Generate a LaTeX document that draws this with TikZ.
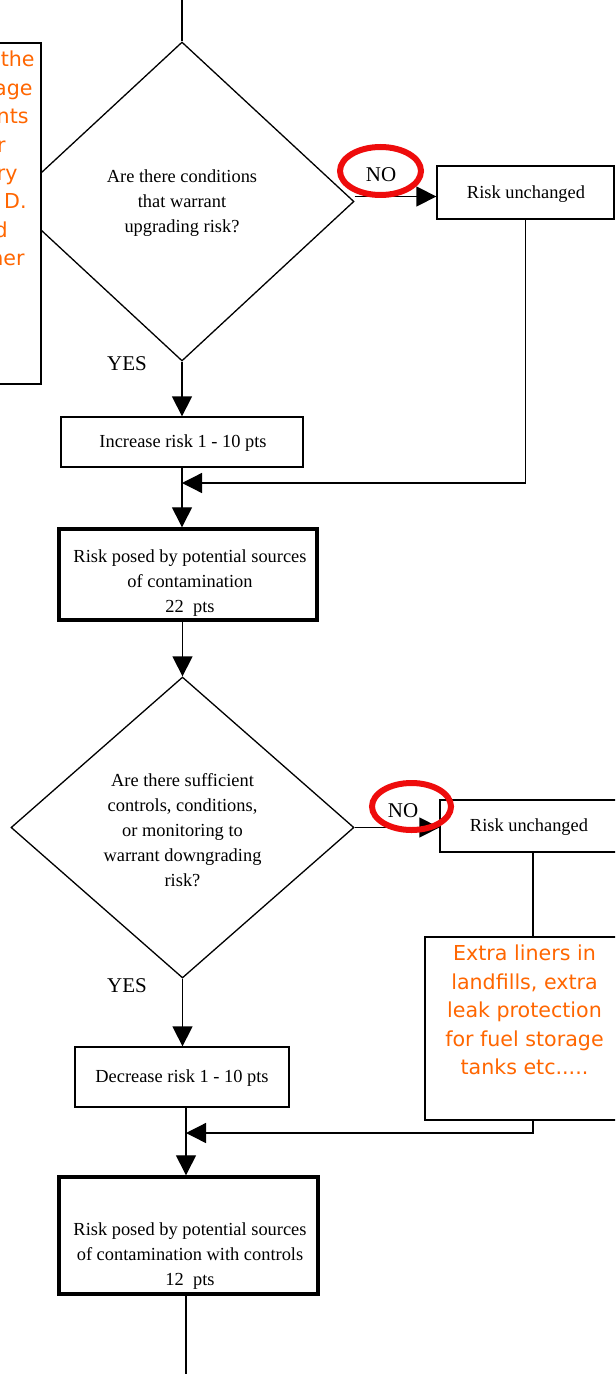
\documentclass[tikz,border=0pt]{standalone}
\usepackage{fontspec}
\setmainfont{Liberation Serif}
\newfontfamily\osans{DejaVu Sans}
\usetikzlibrary{shapes.geometric,arrows.meta}
\definecolor{orng}{RGB}{255,102,0}
\definecolor{redc}{RGB}{238,12,12}
\begin{document}
\begin{tikzpicture}[x=0.5pt,y=-0.5pt,
 every node/.style={font=\fontsize{9.2pt}{12.5pt}\selectfont},
 line/.style={line width=0.65pt},
 arr/.style={line, -{Triangle[length=10pt,width=10pt]}},
 thinbox/.style={draw, line width=0.65pt, fill=white, inner sep=0pt},
 thickbox/.style={draw, line width=1.7pt, fill=white, inner sep=0pt},
 dia/.style={diamond, draw, line width=0.65pt, inner sep=0pt, align=center},
 lab/.style={font=\fontsize{10.5pt}{12pt}\selectfont},
 txt/.style={align=center},
 otext/.style={text=orng, font=\osans\fontsize{10.3pt}{14.2pt}\selectfont, align=center, inner sep=0pt},
 frag/.style={otext, anchor=base east},
 ring/.style={ellipse, draw=redc, line width=3pt, inner sep=0pt}
]
\useasboundingbox (0,0) rectangle (615,1374);
\clip (0,0) rectangle (615,1374);

% first decision
\coordinate (top) at (182,0);
\node[dia, minimum width=172pt, minimum height=159.5pt] (d1) at (182,201.5) {};
\node[txt] (t1) at (182,203) {Are there conditions\\that warrant\\upgrading risk?};
\draw[line] (top) -- (d1.north);

% left orange note (clipped at the page edge as in the reference)
\node[thinbox, minimum width=71pt, minimum height=170.5pt] (lbox) at (-30,213.5) {};
\node[frag] (l1) at (35,67) {the};
\node[frag] (l2) at (33,95.4) {age};
\node[frag] (l3) at (29,123.8) {nts};
\node[frag] (l4) at (6,152.2) {r};
\node[frag] (l5) at (18,180.6) {ry};
\node[frag] (l6) at (27,209) {D.};
\node[frag] (l7) at (8,237.4) {d};
\node[frag] (l8) at (25,265.8) {ner};

% risk unchanged 1
\node[thinbox, minimum width=88.5pt, minimum height=26.5pt] (b1) at (525.5,192.5) {};
\node[txt] (tb1) at (526,194) {Risk unchanged};
\draw[arr] ([yshift=2.5pt]d1.east) -- ([yshift=2.5pt]d1.east -| b1.west);
\node[lab] (no1) at (381,175) {NO};
\node[ring, minimum width=40.5pt, minimum height=24pt] (r1) at (380.5,171) {};

% increase
\node[lab] (yes1) at (127,364) {YES};
\node[thinbox, minimum width=121pt, minimum height=25pt] (inc) at (182,442) {};
\node[txt] (tinc) at (183,443.5) {Increase risk 1 - 10 pts};
\draw[arr] (d1.south) -- (d1.south |- inc.north);
\coordinate (j1) at (182,483);
\draw[arr] (b1.south) |- (j1);

% risk 22
\node[thickbox, minimum width=129pt, minimum height=45.5pt] (r22) at (188,574.5) {};
\node[txt] (t22) at (190,583) {Risk posed by potential sources\\of contamination\\22\ \ pts};
\draw[arr] (inc.south) -- (inc.south |- r22.north);

% second decision
\node[dia, minimum width=171.5pt, minimum height=150.5pt] (d2) at (182.5,827.5) {};
\node[txt] (t2) at (182.5,830) {Are there sufficient\\controls, conditions,\\or monitoring to\\warrant downgrading\\risk?};
\draw[arr] (r22.south -| d2.north) -- (d2.north);

% risk unchanged 2
\node[thinbox, minimum width=89pt, minimum height=26pt] (b2) at (529,826) {};
\node[txt] (tb2) at (529,827.5) {Risk unchanged};
\draw[arr] (d2.east) -- (d2.east -| b2.west);
\node[lab] (no2) at (403,811) {NO};
\node[ring, minimum width=39.5pt, minimum height=23.5pt] (r2) at (411.5,806.5) {};

% orange note
\node[thinbox, minimum width=99.5pt, minimum height=91.5pt] (ob) at (524.5,1028.5) {};
\node[otext] (ot) at (524.5,1010) {Extra liners in\\landfills, extra\\leak protection\\for fuel storage\\tanks etc.....};
\draw[line] ([xshift=2pt]b2.south) -- ([xshift=2pt]b2.south |- ob.north);

% decrease
\node[lab] (yes2) at (127,986) {YES};
\node[thinbox, minimum width=107pt, minimum height=30pt] (dec) at (182,1077) {};
\node[txt] (tdec) at (182,1078.5) {Decrease risk 1 - 10 pts};
\draw[arr] (d2.south) -- (d2.south |- dec.north);
\coordinate (j2) at (186,1133);
\draw[arr] ([xshift=4.25pt]ob.south) |- (j2);

% risk 12
\node[thickbox, minimum width=129.5pt, minimum height=58.5pt] (r12) at (188.5,1235.5) {};
\node[txt] (t12) at (190,1256) {Risk posed by potential sources\\of contamination with controls\\12\ \ pts};
\draw[arr] (j2 |- dec.south) -- (j2 |- r12.north);
\coordinate (bot) at (186,1374);
\draw[line] (j2 |- r12.south) -- (bot);
\end{tikzpicture}
\end{document}
